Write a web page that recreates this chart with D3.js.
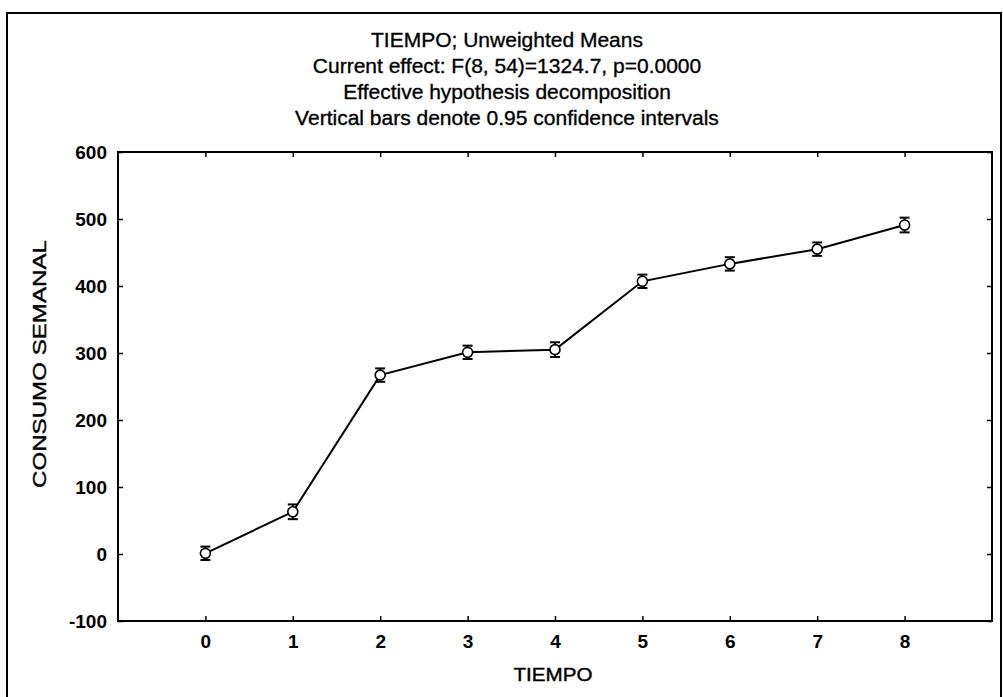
<!DOCTYPE html>
<html>
<head>
<meta charset="utf-8">
<script src="https://cdn.jsdelivr.net/npm/d3@7"></script>
<style>
  html, body { margin: 0; padding: 0; background: #fff; }
  svg { display: block; }
  text { font-family: "Liberation Sans", Arial, Helvetica, sans-serif; fill: #000; }
</style>
</head>
<body>
<svg id="chart" width="1003" height="697"></svg>
<script>
// TIEMPO levels and unweighted means of CONSUMO SEMANAL with 95% CI half-widths
const tiempo = [0, 1, 2, 3, 4, 5, 6, 7, 8];
const means = [1, 63, 267, 301, 305, 407, 433, 455, 491];
const ciHalf = [10, 11, 10, 10, 11, 10, 10, 10, 11];
const yTicks = [-100, 0, 100, 200, 300, 400, 500, 600];
const titleLines = [
  "TIEMPO; Unweighted Means",
  "Current effect: F(8, 54)=1324.7, p=0.0000",
  "Effective hypothesis decomposition",
  "Vertical bars denote 0.95 confidence intervals"
];

const svg = d3.select("#chart");
const plot = { left: 118, right: 992, top: 152, bottom: 621 };

const x = d3.scaleLinear().domain([-1, 9]).range([plot.left, plot.right]);
const y = d3.scaleLinear().domain([-100, 600]).range([plot.bottom, plot.top]);

// plain hyphen for negative tick values
const intFmt = d => String(Math.round(d));

// outer frame
svg.append("path")
  .attr("d", `M7,697 V13 H1001 V697`)
  .attr("fill", "none").attr("stroke", "#000").attr("stroke-width", 2);

// title block
svg.append("g").selectAll("text").data(titleLines).join("text")
  .attr("x", 507)
  .attr("y", (d, i) => 47 + i * 26)
  .attr("text-anchor", "middle")
  .attr("font-size", 21)
  .attr("stroke", "#000").attr("stroke-width", 0.35)
  .text(d => d);

// axes: labels outside, ticks pointing into the plot
const axisB = svg.append("g").attr("transform", `translate(0,${plot.bottom})`)
  .call(d3.axisBottom(x).tickValues(tiempo).tickSize(-5).tickPadding(14).tickFormat(intFmt));
const axisT = svg.append("g").attr("transform", `translate(0,${plot.top})`)
  .call(d3.axisTop(x).tickValues(tiempo).tickSize(-5).tickFormat(""));
const axisL = svg.append("g").attr("transform", `translate(${plot.left},0)`)
  .call(d3.axisLeft(y).tickValues(yTicks).tickSize(-5).tickPadding(11).tickFormat(intFmt));
const axisR = svg.append("g").attr("transform", `translate(${plot.right},0)`)
  .call(d3.axisRight(y).tickValues(yTicks).tickSize(-5).tickFormat(""));

[axisB, axisT, axisL, axisR].forEach(g => {
  g.select(".domain").remove();
  g.selectAll(".tick line").attr("stroke", "#000").attr("stroke-width", 1.5);
  g.selectAll(".tick text")
    .attr("font-size", 19).attr("font-weight", "bold")
    .attr("font-family", "'Liberation Sans', Arial, sans-serif").attr("fill", "#000");
});
axisL.selectAll(".tick text").attr("dy", "0.35em");

svg.append("rect")
  .attr("x", plot.left).attr("y", plot.top)
  .attr("width", plot.right - plot.left).attr("height", plot.bottom - plot.top)
  .attr("fill", "none").attr("stroke", "#000").attr("stroke-width", 2);

// axis titles
svg.append("text")
  .attr("x", 553).attr("y", 681)
  .attr("text-anchor", "middle")
  .attr("font-size", 18)
  .attr("stroke", "#000").attr("stroke-width", 0.4)
  .attr("textLength", 79).attr("lengthAdjust", "spacingAndGlyphs")
  .text("TIEMPO");

svg.append("text")
  .attr("transform", "translate(46,364) rotate(-90)")
  .attr("text-anchor", "middle")
  .attr("font-size", 19)
  .attr("stroke", "#000").attr("stroke-width", 0.4)
  .attr("textLength", 248).attr("lengthAdjust", "spacingAndGlyphs")
  .text("CONSUMO SEMANAL");

// mean line
const pts = tiempo.map((t, i) => ({ t, m: means[i], h: ciHalf[i] }));
svg.append("path")
  .datum(pts)
  .attr("fill", "none").attr("stroke", "#000").attr("stroke-width", 2)
  .attr("d", d3.line().x(d => x(d.t)).y(d => y(d.m)));

// confidence interval whiskers
const whisk = svg.append("g").attr("stroke", "#000").attr("stroke-width", 2);
whisk.selectAll("line.v").data(pts).join("line").attr("class", "v")
  .attr("x1", d => x(d.t)).attr("x2", d => x(d.t))
  .attr("y1", d => y(d.m - d.h)).attr("y2", d => y(d.m + d.h));
whisk.selectAll("line.cap-hi").data(pts).join("line").attr("class", "cap-hi")
  .attr("x1", d => x(d.t) - 5).attr("x2", d => x(d.t) + 5)
  .attr("y1", d => y(d.m + d.h)).attr("y2", d => y(d.m + d.h));
whisk.selectAll("line.cap-lo").data(pts).join("line").attr("class", "cap-lo")
  .attr("x1", d => x(d.t) - 5).attr("x2", d => x(d.t) + 5)
  .attr("y1", d => y(d.m - d.h)).attr("y2", d => y(d.m - d.h));

// mean markers
svg.append("g").selectAll("circle").data(pts).join("circle")
  .attr("cx", d => x(d.t)).attr("cy", d => y(d.m))
  .attr("r", 5)
  .attr("fill", "#fff").attr("stroke", "#000").attr("stroke-width", 1.6);
</script>
</body>
</html>
